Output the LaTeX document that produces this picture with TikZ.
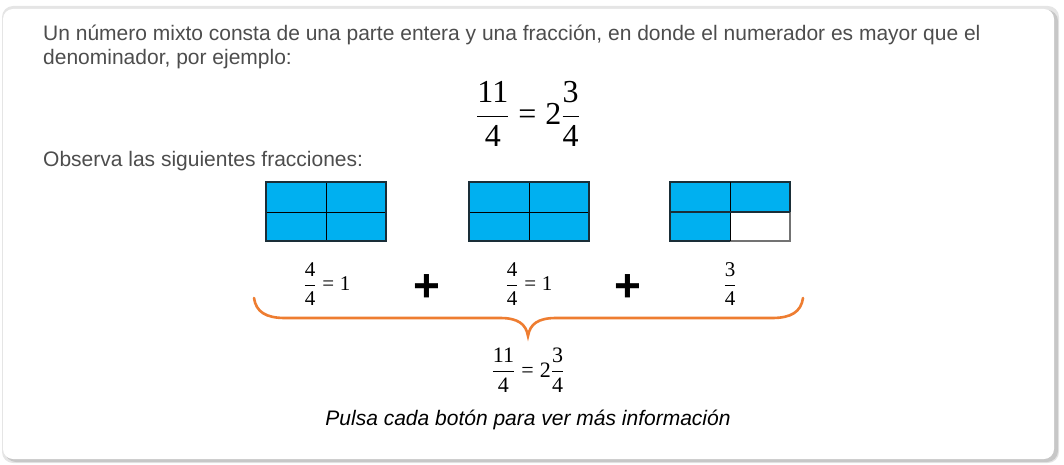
\RequirePackage{fix-cm}
\documentclass[tikz,border=0pt]{standalone}
\usepackage{fontspec}
\setmainfont{Liberation Serif}
\setsansfont{Liberation Sans}
\definecolor{txtgray}{HTML}{4D4D4D}
\definecolor{cellblue}{HTML}{00B0F0}
\definecolor{braceor}{HTML}{EE7D31}
\definecolor{gridline}{HTML}{1A2E38}
\newcommand\myfr[2]{{\displaystyle{\hbox{\rmfamily #1}\over\hbox{\rmfamily #2}}}}
\newcommand\myeq{\mathrel{\hbox{\rmfamily =}}}
\begin{document}
\begin{tikzpicture}[x=1pt,y=-1pt,
  bodytext/.style={font=\sffamily\fontsize{21}{24}\selectfont, text=txtgray, inner sep=0pt},
  bigeq/.style={font=\rmfamily\fontsize{32}{36}\selectfont, inner sep=0pt},
  smalleq/.style={font=\rmfamily\fontsize{21}{22}\selectfont, inner sep=0pt},
  pluss/.style={font=\sffamily\bfseries\fontsize{46}{46}\selectfont, inner sep=0pt},
  boxframe/.style={draw=gridline, line width=1.4pt}]
\useasboundingbox (0,0) rectangle (1064,465);
% card with shadow
\fill[black!10, rounded corners=11] (2,6) rectangle (1059,463);
\fill[black!22, rounded corners=11] (5,10) rectangle (1058,462);
\fill[white, rounded corners=10] (3,9) rectangle (1054,459);
% text
\node[bodytext, anchor=base west] (l1) at (43,41) {Un número mixto consta de una parte entera y una fracción, en donde el numerador es mayor que el};
\node[bodytext, anchor=base west] (l2) at (43,65) {denominador, por ejemplo:};
\node[bigeq] (eq1) at (528,114) {$\myfr{11}{4}\myeq\hbox{2}\myfr{3}{4}$};
\node[bodytext, anchor=base west] (l3) at (43,167) {Observa las siguientes fracciones:};
% boxes
\foreach \bx/\nm in {266/a,469/b} {
  \fill[cellblue] (\bx,182) rectangle ++(120,59);
  \draw[black, line width=1pt] (\bx+60,182) -- (\bx+60,241) (\bx,212) -- (\bx+120,212);
  \draw[boxframe] (\bx,182) rectangle ++(120,59);
}
\fill[cellblue] (670,182) rectangle (790,212);
\fill[cellblue] (670,212) rectangle (730,241);
\draw[black!55, line width=1.4pt] (730,241) -- (790,241) -- (790,212);
\draw[gridline, line width=1.4pt] (790,212) -- (790,182) -- (670,182) -- (670,241) -- (730,241);
\draw[black, line width=1pt] (730,182) -- (730,241);
\draw[gridline, line width=1.4pt] (670,212) -- (790,212);
% labels
\node[smalleq] (f1) at (327,284) {$\myfr{4}{4}\myeq\hbox{1}$};
\node[pluss] (p1) at (427,288) {+};
\node[smalleq] (f2) at (529,284) {$\myfr{4}{4}\myeq\hbox{1}$};
\node[pluss] (p2) at (628,288) {+};
\node[smalleq] (f3) at (730,284) {$\myfr{3}{4}$};
% brace
\draw[braceor, line width=2.6pt, line cap=round]
  (254,298) .. controls (256,312) and (266,318) .. (285,318)
  -- (500,318) .. controls (518,318) and (526,324) .. (528,336)
  .. controls (530,324) and (538,318) .. (556,318)
  -- (772,318) .. controls (791,318) and (801,312) .. (803,298);
\node[smalleq, font=\rmfamily\fontsize{22}{24}\selectfont] (eq2) at (528,370) {$\myfr{11}{4}\myeq\hbox{2}\myfr{3}{4}$};
\node[bodytext, font=\sffamily\itshape\fontsize{21}{24}\selectfont, text=black, anchor=base] (foot) at (528,425) {Pulsa cada botón para ver más información};
\end{tikzpicture}
\end{document}
